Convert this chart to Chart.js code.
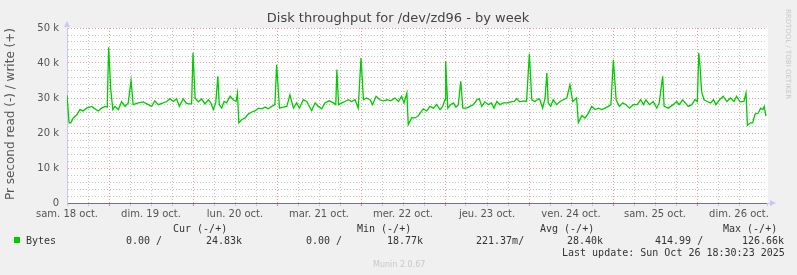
<!DOCTYPE html>
<html>
<head>
<meta charset="utf-8">
<title>Disk throughput for /dev/zd96 - by week</title>
<script src="https://cdn.jsdelivr.net/npm/chart.js@4/dist/chart.umd.min.js"></script>
<style>
    html, body { margin: 0; padding: 0; background: #f0f0f0; }
    canvas { display: block; }
</style>
</head>
<body>
<canvas id="diskChart" width="797" height="275"></canvas>
<script>
// --- Data (hours since start of window, write in k/s) ---
const hours = [
    0, 0.6, 1.1, 1.8, 2.8, 3.7, 4.6, 5.6, 7.1, 8.0, 8.9, 9.9, 10.9, 11.5, 11.9, 12.5, 13.1, 13.7, 14.7, 15.6,
    16.6, 17.5, 18.3, 18.9, 20.4, 21.8, 23.2, 24.2, 25.1, 26.1, 27.5, 28.5, 29.4, 30.4, 31.3, 32.1, 33.2, 34.0, 34.7, 35.6,
    36.0, 36.6, 37.5, 38.5, 39.4, 40.4, 41.1, 41.8, 42.5, 43.1, 43.5, 44.2, 44.9, 45.6, 46.6, 47.5, 48.3, 48.7, 49.1, 49.9,
    50.9, 51.8, 52.8, 53.7, 54.7, 55.6, 56.6, 57.5, 58.5, 59.4, 59.9, 60.7, 61.8, 62.8, 63.7, 64.7, 65.6, 66.4, 67.5, 68.5,
    69.9, 70.9, 71.8, 72.8, 73.7, 74.9, 76.1, 76.8, 77.1, 77.6, 78.5, 79.4, 80.4, 81.3, 82.3, 83.2, 84.0, 84.7, 85.6, 86.6,
    87.3, 88.3, 89.4, 90.4, 91.5, 92.5, 93.7, 94.7, 95.6, 96.3, 97.1, 97.5, 98.5, 99.4, 100.4, 100.9, 101.8, 102.8, 103.7, 104.7,
    105.6, 106.6, 107.3, 108.0, 108.2, 108.8, 109.6, 110.4, 111.1, 111.8, 112.5, 113.1, 114.2, 115.1, 116.1, 117.1, 117.8, 118.5, 119.4, 120.4,
    121.3, 122.0, 122.8, 123.7, 124.7, 125.8, 126.8, 127.7, 128.5, 129.4, 130.4, 131.3, 132.1, 132.8, 133.7, 134.7, 135.1, 135.9, 136.6, 137.1,
    137.5, 138.2, 138.9, 139.9, 140.9, 141.8, 142.8, 143.7, 144.5, 145.6, 146.1, 147.1, 148.0, 149.0, 149.9, 150.9, 151.8, 152.8, 153.7, 154.7,
    155.4, 156.1, 156.9, 157.8, 158.8, 159.7, 160.7, 161.8, 162.9, 163.9, 164.7, 165.4, 166.4, 167.5, 168.5, 169.2, 170.2, 170.6, 171.8, 173.2,
    174.2, 174.9, 175.9, 177.5, 178.5, 179.4, 180.1, 180.5, 180.9, 181.3, 182.0, 182.9, 183.9, 184.7, 185.4, 186.4, 187.5, 188.5, 189.6, 190.6,
    191.3, 192.3, 193.4, 194.0, 194.4, 195.3, 195.9, 196.6, 197.5, 198.2, 198.8, 199.2, 199.7
];
const writeK = [
    30.8, 22.9, 22.9, 24.3, 25.2, 26.7, 26.3, 27.1, 27.6, 26.9, 26.3, 27.1, 27.6, 27.4, 44.5, 32.4, 26.7, 27.6, 26.7, 29.0,
    27.6, 28.6, 35.0, 28.1, 28.6, 28.9, 28.1, 27.6, 29.2, 28.1, 28.6, 29.0, 29.8, 29.0, 29.8, 27.6, 29.8, 28.6, 28.3, 28.3,
    42.9, 30.0, 28.9, 29.7, 28.3, 29.5, 28.6, 26.7, 28.6, 36.2, 28.1, 27.1, 29.0, 28.6, 30.5, 29.5, 29.0, 31.4, 22.9, 23.8,
    24.3, 25.4, 26.0, 26.3, 27.1, 26.9, 27.4, 26.9, 27.6, 28.1, 39.5, 27.1, 27.4, 27.6, 30.9, 27.1, 28.6, 27.1, 29.5, 29.0,
    26.4, 28.6, 27.6, 26.9, 28.6, 29.2, 28.6, 28.1, 38.1, 28.1, 28.6, 29.0, 29.5, 29.0, 29.5, 27.1, 41.4, 29.5, 30.0, 29.5,
    28.1, 30.5, 29.5, 29.2, 29.5, 29.2, 30.0, 29.0, 30.5, 28.6, 31.4, 22.4, 24.4, 24.3, 24.9, 25.7, 26.9, 26.3, 27.6, 27.1,
    28.1, 26.7, 27.6, 29.5, 40.5, 27.1, 28.1, 28.6, 27.4, 28.1, 34.8, 27.1, 27.1, 27.6, 28.1, 29.5, 29.8, 27.6, 28.9, 28.1,
    28.6, 27.1, 29.0, 28.1, 28.6, 28.6, 28.9, 29.0, 29.8, 28.9, 29.2, 29.0, 42.6, 29.5, 29.0, 29.8, 29.5, 27.1, 30.0, 37.1,
    28.6, 27.6, 29.5, 28.1, 29.0, 29.5, 30.0, 33.8, 29.0, 30.0, 22.9, 25.0, 24.3, 25.7, 27.6, 26.7, 27.1, 26.7, 27.1, 27.6,
    28.1, 40.9, 29.5, 27.6, 28.6, 28.1, 27.1, 28.1, 28.1, 29.5, 28.1, 29.5, 28.1, 29.0, 27.1, 28.6, 36.2, 27.6, 27.1, 28.1,
    29.0, 28.1, 29.5, 27.6, 28.1, 29.5, 29.0, 42.9, 38.6, 31.9, 29.5, 29.0, 28.6, 29.5, 28.1, 29.5, 30.5, 29.0, 30.0, 29.0,
    30.5, 28.9, 29.0, 31.4, 22.2, 22.9, 22.9, 25.4, 25.7, 27.1, 26.7, 27.6, 24.8
];

const dayLabels = ['sam. 18 oct.', 'dim. 19 oct.', 'lun. 20 oct.', 'mar. 21 oct.', 'mer. 22 oct.',
                   'jeu. 23 oct.', 'ven. 24 oct.', 'sam. 25 oct.', 'dim. 26 oct.'];
const yTickLabels = ['0', '10 k', '20 k', '30 k', '40 k', '50 k'];

// legend table (munin style)
const legendHeaders = ['Cur (-/+)', 'Min (-/+)', 'Avg (-/+)', 'Max (-/+)'];
const legendSeries = 'Bytes';
const legendValues = ['0.00 /', '24.83k', '0.00 /', '18.77k', '221.37m/', '28.40k', '414.99 /', '126.66k'];
const lastUpdate = 'Last update: Sun Oct 26 18:30:23 2025';

const LINE_COLOR = '#00cc00';

const points = hours.map((h, i) => ({ x: h, y: writeK[i] * 1000 }));

// --- Extra munin/rrdtool decorations ---
const muninDecor = {
    id: 'muninDecor',
    beforeDraw(chart) {
        const { ctx, chartArea: a } = chart;
        ctx.save();
        ctx.fillStyle = '#f0f0f0';
        ctx.fillRect(0, 0, chart.width, chart.height);
        ctx.fillStyle = '#ffffff';
        ctx.fillRect(a.left, a.top, a.right - a.left + 1, a.bottom - a.top);
        ctx.restore();
    },
    afterDraw(chart) {
        const { ctx, chartArea: a } = chart;
        ctx.save();

        // title
        ctx.fillStyle = '#444';
        ctx.font = '13px "DejaVu Sans"';
        ctx.textAlign = 'center';
        ctx.textBaseline = 'middle';
        ctx.fillText('Disk throughput for /dev/zd96 - by week', 398, 19);

        // y axis title
        ctx.save();
        ctx.translate(11, 114);
        ctx.rotate(-Math.PI / 2);
        ctx.font = '12px "DejaVu Sans"';
        ctx.fillStyle = '#555';
        ctx.fillText('Pr second read (-) / write (+)', 0, 0);
        ctx.restore();

        // rrdtool credit on the right
        ctx.save();
        ctx.translate(788, 54);
        ctx.rotate(Math.PI / 2);
        ctx.font = '7px "DejaVu Sans"';
        ctx.fillStyle = '#c8c8c8';
        ctx.fillText('RRDTOOL / TOBI OETIKER', 0, 0);
        ctx.restore();

        // axis arrows
        ctx.fillStyle = '#c8c8f0';
        ctx.beginPath();
        ctx.moveTo(a.left - 3, a.top - 1);
        ctx.lineTo(a.left + 3, a.top - 1);
        ctx.lineTo(a.left, a.top - 7);
        ctx.closePath();
        ctx.fill();
        ctx.beginPath();
        ctx.moveTo(a.right + 3, a.bottom - 3);
        ctx.lineTo(a.right + 3, a.bottom + 3);
        ctx.lineTo(a.right + 9, a.bottom);
        ctx.closePath();
        ctx.fill();
        ctx.strokeStyle = '#c8c8f0';
        ctx.lineWidth = 1;
        ctx.beginPath();
        ctx.moveTo(a.right, a.bottom + 0.5);
        ctx.lineTo(a.right + 4, a.bottom + 0.5);
        ctx.stroke();

        // legend table
        ctx.font = '10px "DejaVu Sans Mono"';
        ctx.fillStyle = '#333';
        ctx.textAlign = 'left';
        ctx.textBaseline = 'alphabetic';
        const headX = [173, 357, 540, 723];
        legendHeaders.forEach((t, i) => ctx.fillText(t, headX[i], 232));
        ctx.fillStyle = LINE_COLOR;
        ctx.fillRect(14, 237, 6, 6);
        ctx.fillStyle = '#333';
        ctx.fillText(legendSeries, 26, 244);
        const valX = [126, 206, 306, 387, 476, 567, 655, 742];
        legendValues.forEach((t, i) => ctx.fillText(t, valX[i], 244));
        ctx.fillText(lastUpdate, 562, 256);

        ctx.font = '8px "DejaVu Sans"';
        ctx.fillStyle = '#c8c8c8';
        ctx.fillText('Munin 2.0.67', 373, 267);
        ctx.restore();
    }
};

const ctx = document.getElementById('diskChart').getContext('2d');
new Chart(ctx, {
    type: 'line',
    data: {
        datasets: [{
            label: legendSeries,
            data: points,
            borderColor: LINE_COLOR,
            borderWidth: 1.3,
            pointRadius: 0,
            tension: 0,
            fill: false
        }]
    },
    options: {
        responsive: false,
        animation: false,
        devicePixelRatio: 1,
        layout: { padding: { top: 28, right: 30, left: 0, bottom: 0 } },
        plugins: {
            legend: { display: false },
            tooltip: { enabled: false }
        },
        scales: {
            x: {
                type: 'linear',
                min: 0,
                max: 200,
                afterFit(scale) { scale.height = 72; },
                ticks: {
                    stepSize: 6,
                    autoSkip: false,
                    maxRotation: 0,
                    padding: 2,
                    color: '#555',
                    font: { family: 'DejaVu Sans', size: 10 },
                    callback: (v) => (v % 24 === 0 ? dayLabels[v / 24] : '')
                },
                grid: {
                    drawTicks: true,
                    tickLength: 3,
                    lineWidth: 1,
                    color: (c) => {
                        const v = c.tick ? c.tick.value : 0;
                        if (v % 6 !== 0) return 'rgba(0,0,0,0)';
                        return v % 24 === 12 ? 'rgba(230,140,140,0.85)' : 'rgba(190,190,190,0.9)';
                    },
                    tickColor: (c) => {
                        const v = c.tick ? c.tick.value : 0;
                        return v % 24 === 12 ? '#e08080' : '#cccccc';
                    }
                },
                border: { display: true, color: '#707090', width: 1, dash: [1, 2] }
            },
            y: {
                min: 0,
                max: 50000,
                afterFit(scale) { scale.width = 67; },
                ticks: {
                    stepSize: 2000,
                    autoSkip: false,
                    padding: 8,
                    color: '#555',
                    font: { family: 'DejaVu Sans', size: 10 },
                    callback: (v) => (v % 10000 === 0 ? yTickLabels[v / 10000] : '')
                },
                grid: {
                    drawTicks: false,
                    lineWidth: 1,
                    color: (c) => {
                        const v = c.tick ? c.tick.value : 0;
                        return v % 10000 === 0 ? 'rgba(230,140,140,0.85)' : 'rgba(190,190,190,0.9)';
                    }
                },
                border: { display: true, color: '#c8c8f0', width: 1, dash: [1, 2] }
            }
        }
    },
    plugins: [muninDecor]
});
</script>
</body>
</html>
